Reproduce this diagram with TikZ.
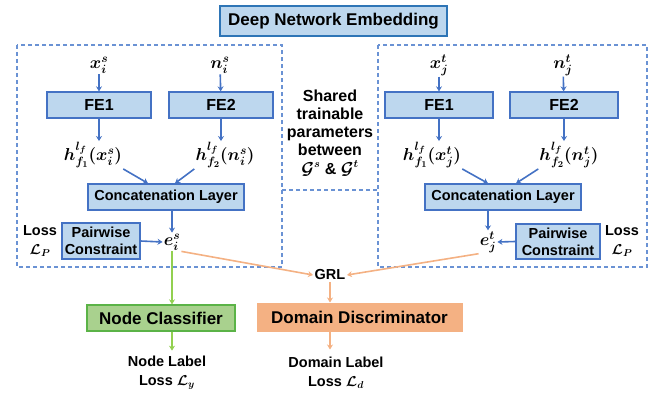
\documentclass[tikz,border=0pt]{standalone}
\usepackage{amsmath,bm}
\usepackage{fontspec}
\setmainfont{Liberation Sans}
\usetikzlibrary{arrows.meta,calc}
\definecolor{lblue}{HTML}{BDD7EE}
\definecolor{bblue}{HTML}{4472C4}
\definecolor{tblue}{HTML}{2E75B6}
\definecolor{dblue}{HTML}{6A92D4}
\definecolor{lgreen}{HTML}{A9D18E}
\definecolor{bgreen}{HTML}{5BB347}
\definecolor{agreen}{HTML}{92D050}
\definecolor{lorange}{HTML}{F4B183}
\begin{document}
\begin{tikzpicture}[x=1pt,y=-1pt,
  blk/.style={draw=bblue, fill=lblue, line width=1.3pt, inner sep=0pt, font=\bfseries\fontsize{14.5}{16}\selectfont},
  arr/.style={-{Stealth[length=5pt,width=6pt]}, draw=bblue, line width=1.6pt},
  garr/.style={-{Stealth[length=5pt,width=6pt]}, draw=agreen, line width=1.6pt},
  oarr/.style={-{Stealth[length=5pt,width=6pt]}, draw=lorange, line width=1.6pt},
  mth/.style={font=\fontsize{17.5}{20}\selectfont, inner sep=1pt},
  lbl/.style={font=\bfseries\fontsize{14.5}{19}\selectfont, align=center, inner sep=0pt},
  dbox/.style={draw=dblue, dashed, dash pattern=on 4pt off 3pt, line width=1.1pt}
]
\useasboundingbox (0,0) rectangle (664,396);

% top title
\node[blk, draw=tblue, line width=1.5pt, minimum width=227pt, minimum height=30pt, font=\bfseries\fontsize{17}{19}\selectfont] (title) at (333.5,21) {Deep Network Embedding};

% dashed boxes
\draw[dbox] (17,45) rectangle (282,267);
\draw[dbox] (378,45) rectangle (647,267);
\draw[dbox] (282,190) -- (378,190);

% shared text
\node[lbl, font=\bfseries\fontsize{16}{18}\selectfont] (shared) at (330,133) {Shared\\trainable\\parameters\\between\\[1.5pt]$\bm{\mathcal{G}^s}$ \& $\bm{\mathcal{G}^t}$};

% ---------- left ----------
\node[mth] (xs) at (99,65) {$\bm{x_i^s}$};
\node[mth] (ns) at (220,65) {$\bm{n_i^s}$};
\node[blk, font=\bfseries\fontsize{16}{18}\selectfont, minimum width=104pt, minimum height=26pt] (fe1s) at (99,105) {FE1};
\node[blk, font=\bfseries\fontsize{16}{18}\selectfont, minimum width=104pt, minimum height=26pt] (fe2s) at (221,105) {FE2};
\node[mth] (h1s) at (93,155) {$\bm{h^{l_f}_{f_1}(x_i^s)}$};
\node[mth] (h2s) at (225,155) {$\bm{h^{l_f}_{f_2}(n_i^s)}$};
\node[blk, minimum width=156pt, minimum height=26pt] (cls) at (166,197) {Concatenation Layer};
\node[mth] (es) at (172,242) {$\bm{e_i^s}$};
\node[blk, minimum width=78pt, minimum height=36pt, align=center, font=\bfseries\fontsize{14.5}{17}\selectfont] (pcs) at (101,241) {Pairwise\\Constraint};
\node[lbl] (lps) at (40,241) {Loss\\$\bm{\mathcal{L}_P}$};

\draw[arr] (xs) -- (fe1s);
\draw[arr] (ns) -- (fe2s);
\draw[arr] (fe1s) -- (fe1s |- h1s.north);
\draw[arr] (fe2s) -- (fe2s |- h2s.north);
\draw[arr] (h1s.south east) -- ([xshift=-18pt]cls.north);
\draw[arr] (h2s.south west) -- ([xshift=9pt]cls.north);
\draw[arr] (es |- cls.south) -- (es.north);
\draw[arr] (pcs.east) -- (es.west);

% ---------- right ----------
\node[mth] (xt) at (439,65) {$\bm{x_j^t}$};
\node[mth] (nt) at (563,65) {$\bm{n_j^t}$};
\node[blk, font=\bfseries\fontsize{16}{18}\selectfont, minimum width=108pt, minimum height=26pt] (fe1t) at (439,105) {FE1};
\node[blk, font=\bfseries\fontsize{16}{18}\selectfont, minimum width=108pt, minimum height=26pt] (fe2t) at (564,105) {FE2};
\node[mth] (h1t) at (432,155) {$\bm{h^{l_f}_{f_1}(x_j^t)}$};
\node[mth] (h2t) at (569,155) {$\bm{h^{l_f}_{f_2}(n_j^t)}$};
\node[blk, minimum width=156pt, minimum height=26pt] (clt) at (503,197) {Concatenation Layer};
\node[mth] (et) at (488,242) {$\bm{e_j^t}$};
\node[blk, minimum width=84pt, minimum height=35pt, align=center, font=\bfseries\fontsize{14.5}{17}\selectfont] (pct) at (558,241.5) {Pairwise\\Constraint};
\node[lbl] (lpt) at (622,241) {Loss\\$\bm{\mathcal{L}_P}$};

\draw[arr] (xt) -- (fe1t);
\draw[arr] (nt) -- (fe2t);
\draw[arr] (fe1t) -- (fe1t |- h1t.north);
\draw[arr] (fe2t) -- (fe2t |- h2t.north);
\draw[arr] (h1t.south east) -- ([xshift=-15pt]clt.north);
\draw[arr] (h2t.south west) -- ([xshift=13pt]clt.north);
\draw[arr] (et |- clt.south) -- (et.north);
\draw[arr] (pct.west) -- (et.east);

% ---------- bottom ----------
\node[font=\bfseries\fontsize{14.5}{16}\selectfont, inner sep=1.5pt] (grl) at (330,275) {GRL};
\node[draw=bgreen, fill=lgreen, line width=1.3pt, minimum width=148pt, minimum height=26pt, inner sep=0pt, font=\bfseries\fontsize{17}{19}\selectfont] (nc) at (161,318) {Node Classifier};
\node[draw=lorange, fill=lorange, line width=1pt, minimum width=205pt, minimum height=28pt, inner sep=0pt, font=\bfseries\fontsize{17}{19}\selectfont] (dd) at (359.5,317) {Domain Discriminator};
\node[lbl] (nl) at (167,373) {Node Label\\Loss $\bm{\mathcal{L}_y}$};
\node[lbl] (dl) at (336,373) {Domain Label\\Loss $\bm{\mathcal{L}_d}$};

\draw[garr] (es.south) -- (es.south |- nc.north);
\draw[garr] (es.south |- nc.south) -- ++(0,19);
\draw[oarr] (es.south east) -- (grl.west);
\draw[oarr] (et.south west) -- (grl.east);
\draw[oarr] (grl.south) -- (grl.south |- dd.north);
\draw[oarr] (grl.south |- dd.south) -- ++(0,18);
\end{tikzpicture}
\end{document}
